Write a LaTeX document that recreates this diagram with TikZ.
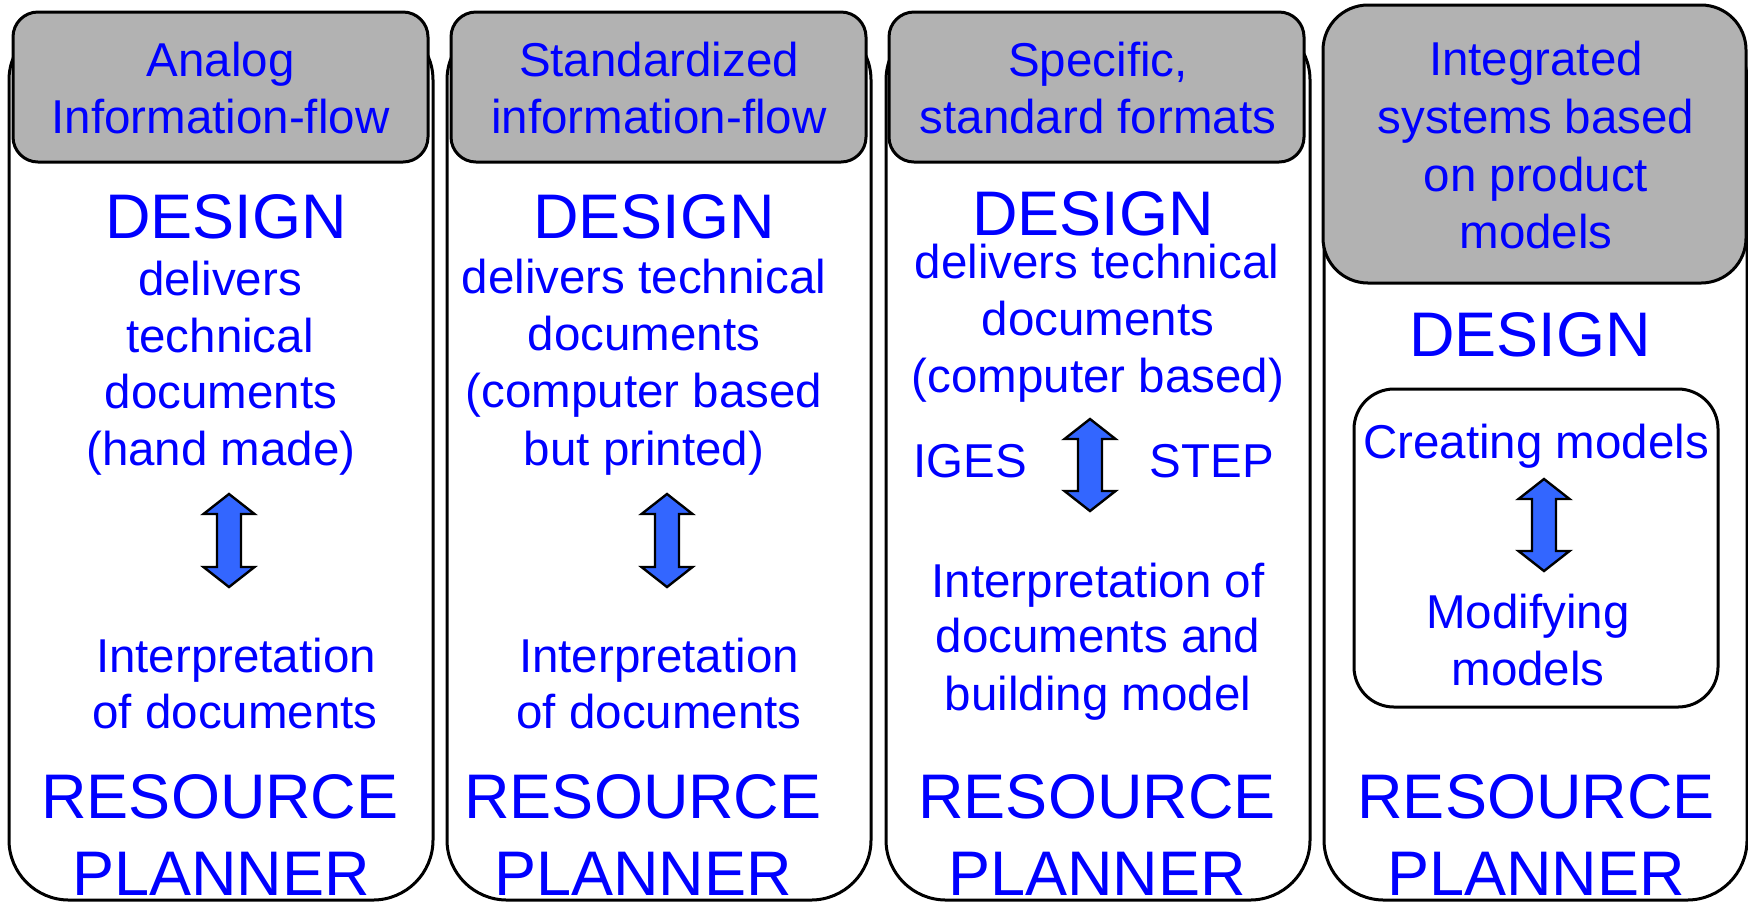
\documentclass[tikz,border=0pt]{standalone}
\usepackage{fontspec}
\setmainfont{Liberation Sans}
\definecolor{hdgray}{RGB}{178,178,178}
\definecolor{arrblue}{RGB}{51,102,255}
\newcommand\txtl[5]{\node[#1] (#2) at (#3,#4) {#5};}
\newcommand\udarrow[4]{% name, cx, top, bottom
  \coordinate (#1) at (#2,{(#3+#4)/2});
  \draw[arrowshape] (#2,#3) -- ++(25.5,20) -- ++(-13.5,0) -- (#2+12,#4-20) -- ++(13.5,0) -- (#2,#4)
    -- ++(-25.5,-20) -- ++(13.5,0) -- (#2-12,#3+20) -- ++(-13.5,0) -- cycle;}
\tikzset{
  x=0.5pt, y=-0.5pt,
  outerbox/.style={draw=black, line width=1.5pt, fill=white, rounded corners=30pt},
  headbox/.style={draw=black, line width=1.5pt, fill=hdgray, rounded corners=12.5pt},
  innerbox/.style={draw=black, line width=1.5pt, fill=white, rounded corners=20pt},
  arrowshape/.style={draw=black, line width=1.2pt, fill=arrblue, line join=miter},
  txt/.style={anchor=base, inner sep=0pt, outer sep=0pt, text=blue},
  hd/.style={txt, font=\fontsize{23.75pt}{28.5pt}\selectfont},
  bd/.style={txt, font=\fontsize{23.75pt}{28.5pt}\selectfont},
  bg/.style={txt, font=\fontsize{31.5pt}{38.5pt}\selectfont},
}
\begin{document}
\begin{tikzpicture}
\useasboundingbox (0,0) rectangle (1748,902);
% outer column boxes
\draw[outerbox] (9,20) rectangle (433,900);
\draw[outerbox] (447,20) rectangle (871,900);
\draw[outerbox] (886,20) rectangle (1310,900);
\draw[outerbox] (1324,20) rectangle (1747,900);
% header boxes
\draw[headbox] (13,12) rectangle (428,162);
\draw[headbox] (451,12) rectangle (866,162);
\draw[headbox] (889,12) rectangle (1304,162);
\draw[headbox, rounded corners=22.5pt] (1323,5) rectangle (1746,283);
% inner box col 4
\draw[innerbox] (1354,389) rectangle (1718,707);

% Column 1
\txtl{hd}{h1a}{220.5}{76}{Analog}
\txtl{hd}{h1b}{220.5}{133}{Information-flow}
\txtl{bg}{d1}{226}{238}{DESIGN}
\txtl{bd}{t1a}{220}{295}{delivers}
\txtl{bd}{t1b}{220}{352}{technical}
\txtl{bd}{t1c}{221}{408}{documents}
\txtl{bd}{t1d}{221}{465}{(hand made)}
\udarrow{a1}{229}{494}{587}
\txtl{bd}{i1a}{236}{672}{Interpretation}
\txtl{bd}{i1b}{235}{728}{of documents}
\txtl{bg}{r1a}{220}{818}{RESOURCE}
\txtl{bg}{r1b}{221}{895}{PLANNER}

% Column 2
\txtl{hd}{h2a}{659}{76}{Standardized}
\txtl{hd}{h2b}{659}{133}{information-flow}
\txtl{bg}{d2}{654}{238}{DESIGN}
\txtl{bd}{t2a}{644}{293}{delivers technical}
\txtl{bd}{t2b}{644}{350}{documents}
\txtl{bd}{t2c}{644}{407}{(computer based}
\txtl{bd}{t2d}{644}{465}{but printed)}
\udarrow{a2}{667}{494}{587}
\txtl{bd}{i2a}{659}{672}{Interpretation}
\txtl{bd}{i2b}{659}{728}{of documents}
\txtl{bg}{r2a}{643}{818}{RESOURCE}
\txtl{bg}{r2b}{643}{895}{PLANNER}

% Column 3
\txtl{hd}{h3a}{1098}{76}{Specific,}
\txtl{hd}{h3b}{1098}{133}{standard formats}
\txtl{bg}{d3}{1093}{235}{DESIGN}
\txtl{bd}{t3a}{1097}{278}{delivers technical}
\txtl{bd}{t3b}{1098}{335}{documents}
\txtl{bd}{t3c}{1098}{392}{(computer based)}
\txtl{bd}{ig}{970}{477}{IGES}
\txtl{bd}{st}{1212}{477}{STEP}
\udarrow{a3}{1090}{419}{511}
\txtl{bd}{i3a}{1098}{597}{Interpretation of}
\txtl{bd}{i3b}{1098}{652}{documents and}
\txtl{bd}{i3c}{1098}{710}{building model}
\txtl{bg}{r3a}{1097}{818}{RESOURCE}
\txtl{bg}{r3b}{1097}{895}{PLANNER}

% Column 4
\txtl{hd}{h4a}{1536}{75}{Integrated}
\txtl{hd}{h4b}{1536}{133}{systems based}
\txtl{hd}{h4c}{1536}{191}{on product}
\txtl{hd}{h4d}{1536}{248}{models}
\txtl{bg}{d4}{1530}{356}{DESIGN}
\txtl{bd}{c4}{1536}{458}{Creating models}
\udarrow{a4}{1544}{479}{571}
\txtl{bd}{m4a}{1528}{628}{Modifying}
\txtl{bd}{m4b}{1528}{685}{models}
\txtl{bg}{r4a}{1536}{818}{RESOURCE}
\txtl{bg}{r4b}{1536}{895}{PLANNER}
\end{tikzpicture}
\end{document}
